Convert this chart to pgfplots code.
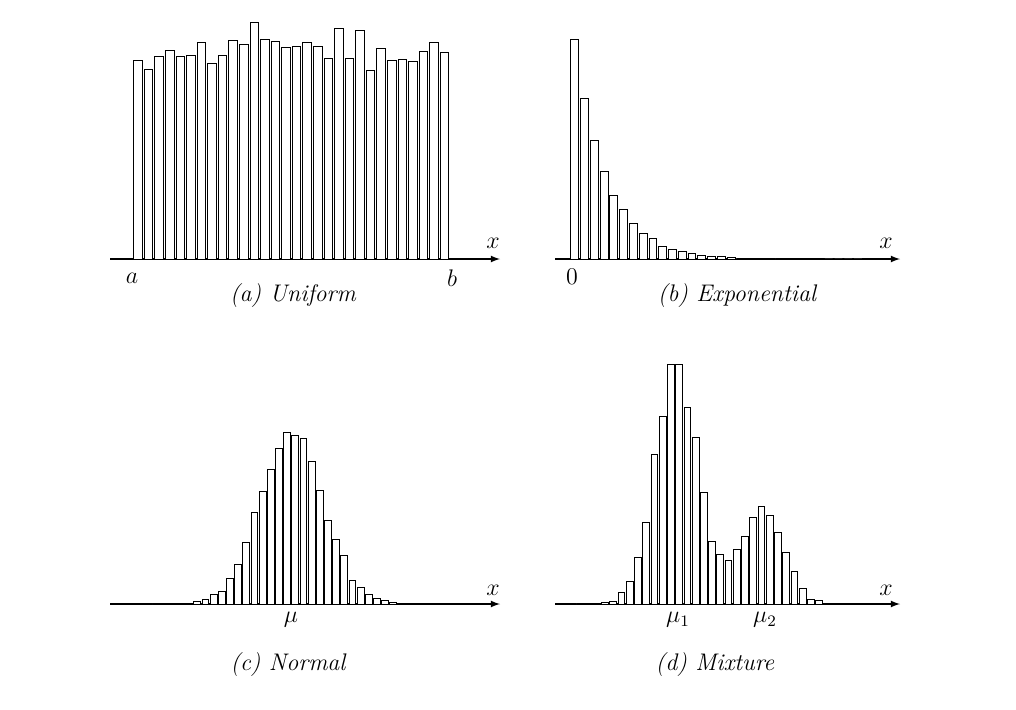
\documentclass[border=0pt]{standalone}
\usepackage{pgfplots}
\pgfplotsset{compat=1.18}
\pgfplotsset{hist/.style={scale only axis, enlargelimits=false, ymin=0, axis x line=bottom, axis y line=none,
  x axis line style={-latex, line width=0.6pt}, xtick=\empty, ytick=\empty, clip=false,
  every axis plot/.append style={ybar, draw=black, fill=white, line width=0.4pt}}}
\begin{document}
\begin{tikzpicture}
\path (0,0) rectangle (508pt,354.5pt);
% (a)
\begin{axis}[hist, xmin=110, xmax=500, ymax=250, width=195pt, height=125pt, at={(55pt,225pt)}, anchor=south west]
\addplot[bar width=8.5] table[header=false, x expr=138+10.57*\coordindex, y index=0]{
199
190
203
209
203
204
217
196
204
219
215
237
220
218
212
213
217
213
201
231
201
229
189
211
199
200
198
208
217
207
};
\node[font=\large] at (axis cs:493,16) {$x$};
\node[font=\large] at (axis cs:132,-19) {$a$};
\node[font=\large] at (axis cs:452,-19) {$b$};
\node[font=\large\itshape] at (axis cs:293,-37) {(a) Uniform};
\end{axis}
% (b)
\begin{axis}[hist, xmin=555, xmax=900, ymax=250, width=172.5pt, height=125pt, at={(277.5pt,225pt)}, anchor=south west]
\addplot[bar width=7.8] table[header=false, x expr=574.7+9.77*\coordindex, y index=0]{
220
161
119
88
64
50
36
26
21
13
9.3
8
5.3
4
3
2.7
1.7
1
0.7
0.5
0.4
0.3
0.3
0.2
0.2
0.2
0.1
0.1
0.1
0.1
};
\node[font=\large] at (axis cs:886,16) {$x$};
\node[font=\large] at (axis cs:572,-18) {$0$};
\node[font=\large\itshape] at (axis cs:737,-37) {(b) Exponential};
\end{axis}
% (c)
\begin{axis}[hist, xmin=110, xmax=500, ymax=250, width=195pt, height=125pt, at={(55pt,52.5pt)}, anchor=south west]
\addplot[bar width=6.8] table[header=false, x expr=140+8.17*\coordindex, y index=0]{
0.2
0.2
0.2
0.2
0.2
0.2
1
3
5
10
12.7
26
40
62
92
113
135
156
172
169
166
143
114
84
65
49
24
17
10
5.3
3.3
2
1
0.3
0.3
0.3
0.3
0.3
};
\node[font=\large] at (axis cs:493,14) {$x$};
\node[font=\large] at (axis cs:291,-16) {$\mu$};
\node[font=\large\itshape] at (axis cs:288,-61) {(c) Normal};
\end{axis}
% (d)
\begin{axis}[hist, xmin=555, xmax=900, ymax=250, width=172.5pt, height=125pt, at={(277.5pt,52.5pt)}, anchor=south west]
\addplot[bar width=6.8] table[header=false, x expr=572.1+8.23*\coordindex, y index=0]{
0.2
0.3
0.5
1
1.3
2.7
12
23
47
82
150
188
240
240
197
167
112
63
50
44
55
68
87
98
89
72
52
33
16
5
3.3
0.3
0.2
};
\node[font=\large] at (axis cs:886,14) {$x$};
\node[font=\large] at (axis cs:678,-16) {$\mu_1$};
\node[font=\large] at (axis cs:765,-16) {$\mu_2$};
\node[font=\large\itshape] at (axis cs:715,-61) {(d) Mixture};
\end{axis}
\end{tikzpicture}
\end{document}
